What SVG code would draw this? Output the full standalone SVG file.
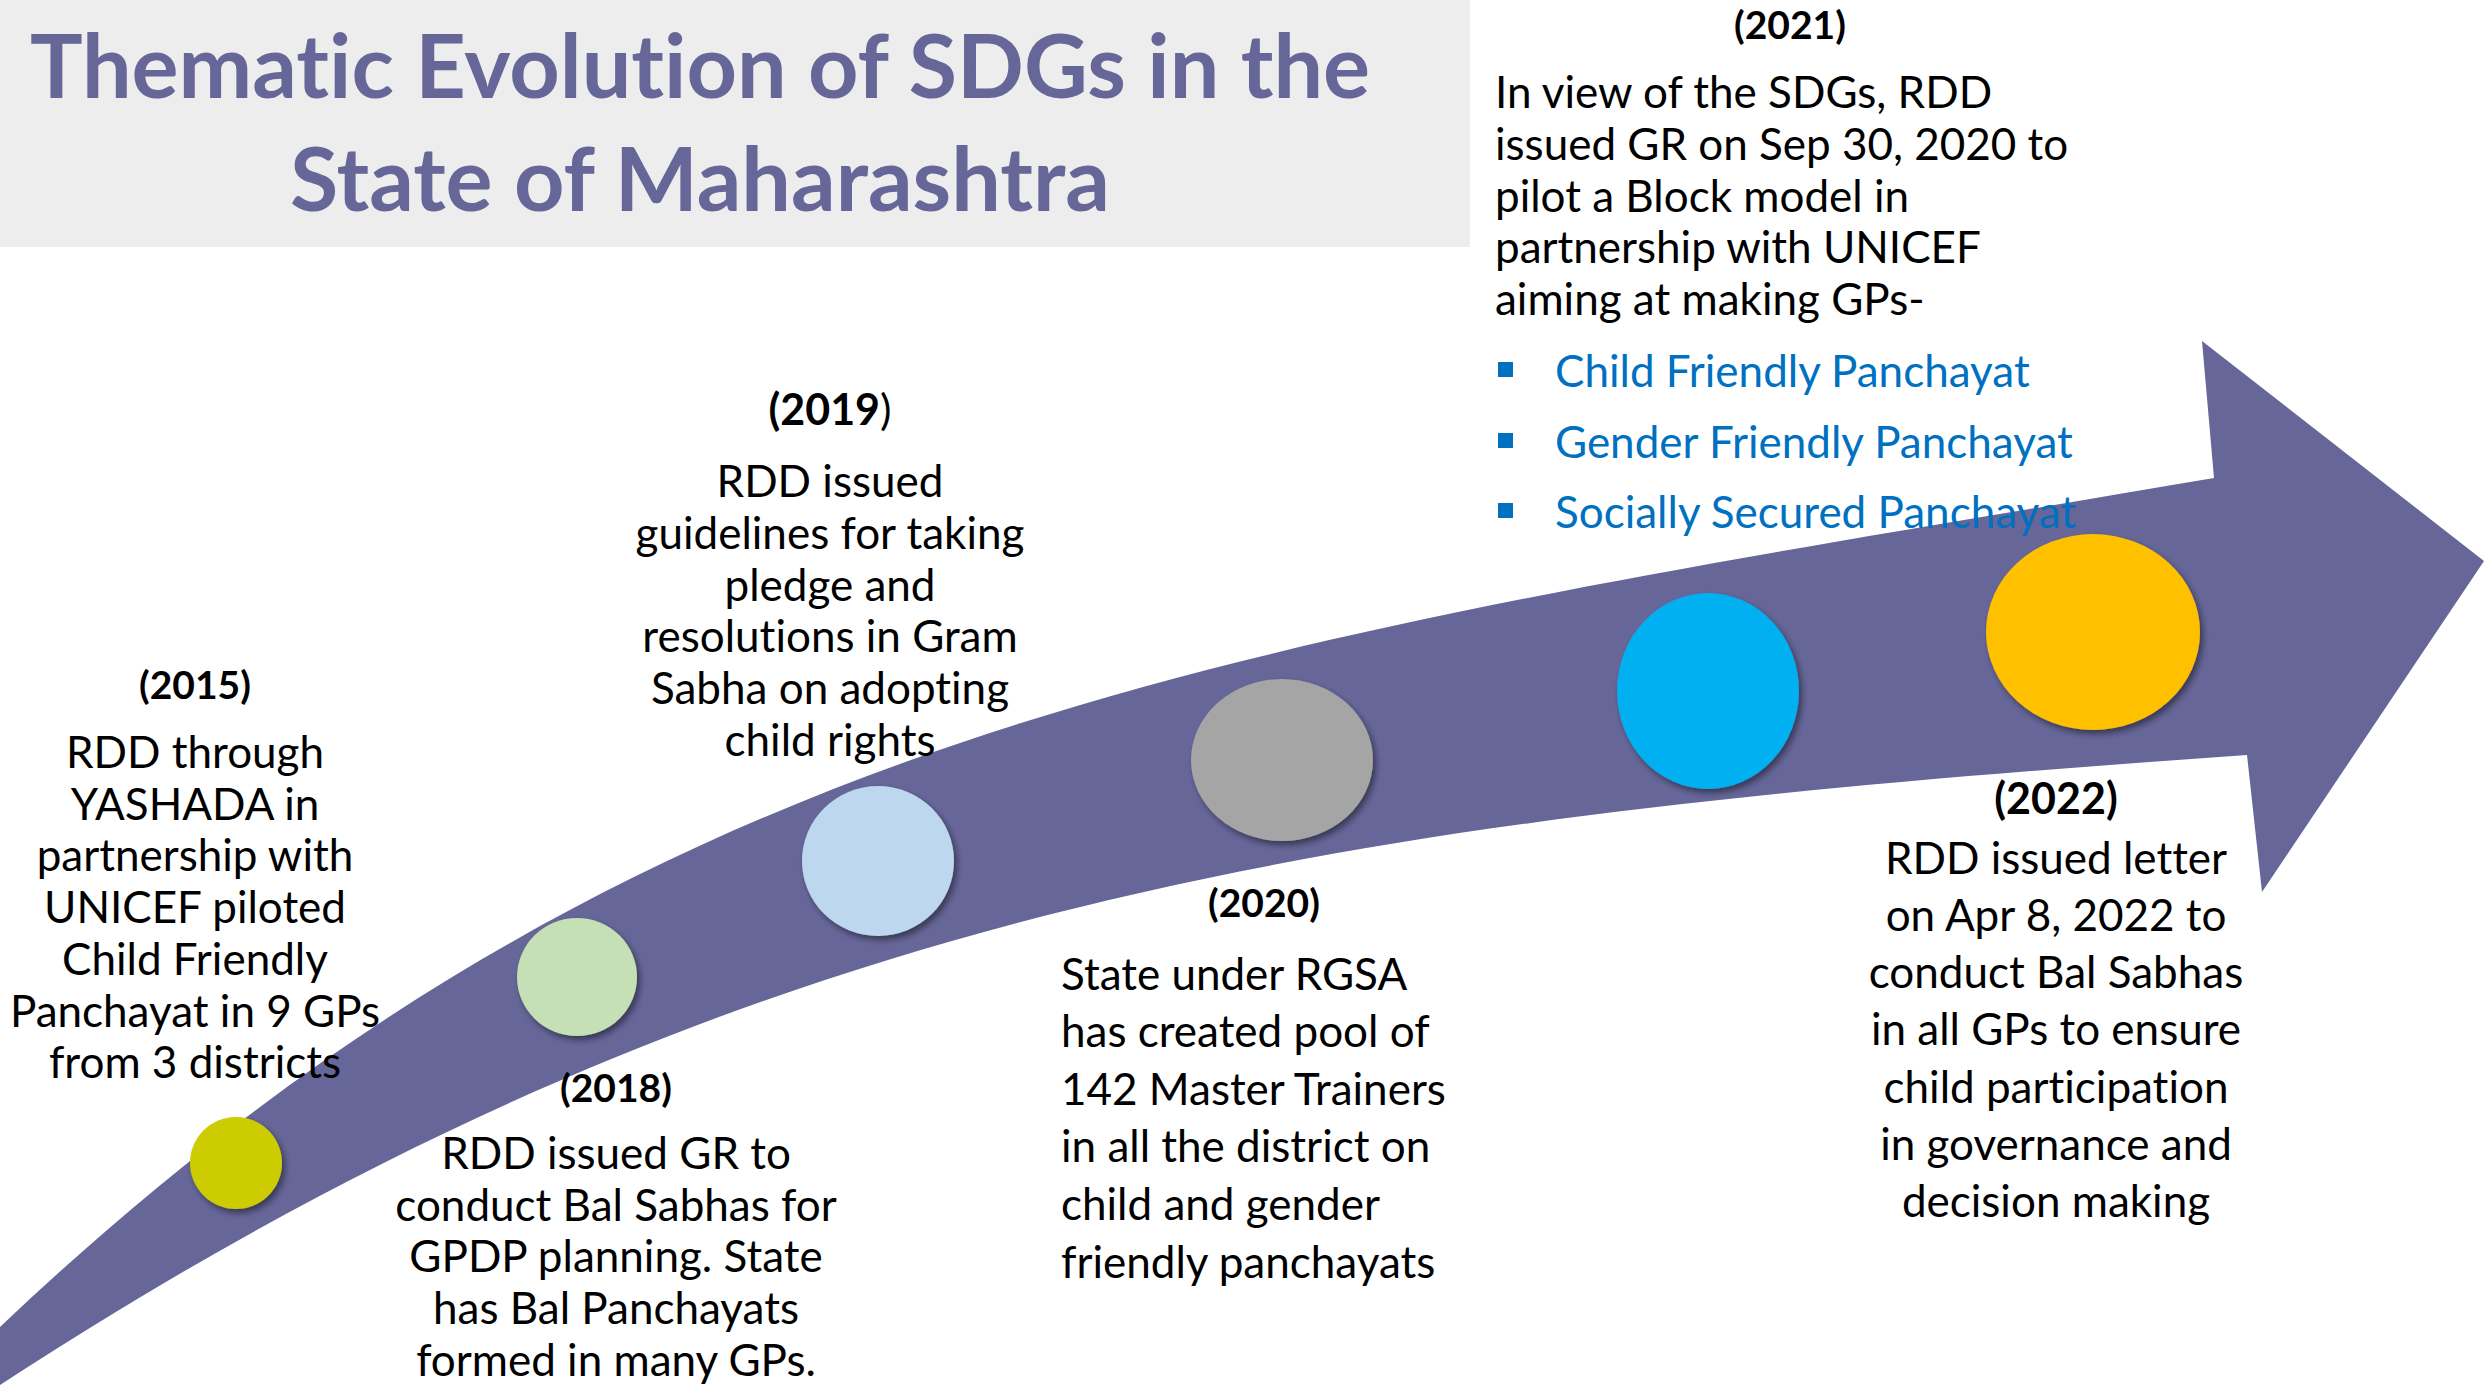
<svg xmlns="http://www.w3.org/2000/svg" width="2484" height="1385" viewBox="0 0 2484 1385">
<style>
text{font-variant-ligatures:none;font-feature-settings:"liga" 0,"dlig" 0}
.title{font-family:Lato,"Open Sans","Liberation Sans",sans-serif;font-weight:700;font-size:88px;fill:#666699;text-anchor:middle}
.body{font-family:Lato,"Open Sans","Liberation Sans",sans-serif;font-size:44px;fill:#000}
.mid{text-anchor:middle}
.yr{font-weight:700;font-size:39px}
.yr2{font-weight:700;font-size:43px}
.blue{fill:#0070C0}
.dot{filter:url(#sh)}
</style>
<defs>
<filter id="sh" x="-20%" y="-20%" width="150%" height="150%">
<feDropShadow dx="3" dy="4" stdDeviation="3" flood-color="#000" flood-opacity="0.45"/>
</filter>
</defs>
<rect x="0" y="0" width="2484" height="1385" fill="#ffffff"/>
<g id="title">
<rect x="0" y="0" width="1470" height="247" fill="#EDEDED"/>
<text class="title" x="700" y="98">Thematic Evolution of SDGs in the</text>
<text class="title" x="700" y="211">State of Maharashtra</text>
</g>
<g id="connectors">
<path id="timeline-arrow" fill="#666699" d="M0,1327 C650,709.5 1264,639.5 2214,478 L2202,341 L2484,561 L2262,892 L2247,755 C1347,818 750,895.5 0,1385 Z"/>
</g>
<g id="m2015">
<ellipse class="dot" cx="236" cy="1163" rx="46" ry="46" fill="#CCCC00"/>
<text class="body mid" x="195"><tspan class="yr" x="195" y="699">(2015)</tspan><tspan x="195" y="768">RDD through</tspan><tspan x="195" y="820">YASHADA in</tspan><tspan x="195" y="871">partnership with</tspan><tspan x="195" y="923">UNICEF piloted</tspan><tspan x="195" y="975">Child Friendly</tspan><tspan x="195" y="1027">Panchayat in 9 GPs</tspan><tspan x="195" y="1078">from 3 districts</tspan></text>
</g>
<g id="m2018">
<ellipse class="dot" cx="577" cy="977" rx="60" ry="59" fill="#C5E0B4"/>
<text class="body mid"><tspan class="yr" x="616" y="1102">(2018)</tspan><tspan x="616" y="1169">RDD issued GR to</tspan><tspan x="616" y="1221">conduct Bal Sabhas for</tspan><tspan x="616" y="1272">GPDP planning. State</tspan><tspan x="616" y="1324">has Bal Panchayats</tspan><tspan x="616" y="1376">formed in many GPs.</tspan></text>
</g>
<g id="m2019">
<ellipse class="dot" cx="878" cy="861" rx="76" ry="75" fill="#BDD7EE"/>
<text class="body mid"><tspan x="830" y="425"><tspan class="yr2">(2019</tspan><tspan font-size="43">)</tspan></tspan><tspan x="830" y="497">RDD issued</tspan><tspan x="830" y="549">guidelines for taking</tspan><tspan x="830" y="601">pledge and</tspan><tspan x="830" y="652">resolutions in Gram</tspan><tspan x="830" y="704">Sabha on adopting</tspan><tspan x="830" y="756">child rights</tspan></text>
</g>
<g id="m2020">
<ellipse class="dot" cx="1282" cy="760" rx="91" ry="81" fill="#A5A5A5"/>
<text class="body mid yr" x="1264" y="917">(2020)</text>
<text class="body"><tspan x="1061" y="990">State under RGSA</tspan><tspan x="1061" y="1047">has created pool of</tspan><tspan x="1061" y="1105">142 Master Trainers</tspan><tspan x="1061" y="1162">in all the district on</tspan><tspan x="1061" y="1220">child and gender</tspan><tspan x="1061" y="1278">friendly panchayats</tspan></text>
</g>
<g id="m2021">
<ellipse class="dot" cx="1708" cy="691" rx="91" ry="98" fill="#00B0F0"/>
<text class="body mid yr" x="1790" y="39">(2021)</text>
<text class="body"><tspan x="1495" y="108">In view of the SDGs, RDD</tspan><tspan x="1495" y="160">issued GR on Sep 30, 2020 to</tspan><tspan x="1495" y="212">pilot a Block model in</tspan><tspan x="1495" y="263">partnership with UNICEF</tspan><tspan x="1495" y="315">aiming at making GPs-</tspan></text>
<rect x="1498" y="362" width="15" height="15" fill="#0070C0"/>
<rect x="1498" y="433" width="15" height="15" fill="#0070C0"/>
<rect x="1498" y="503" width="15" height="15" fill="#0070C0"/>
<text class="body blue"><tspan x="1555" y="387">Child Friendly Panchayat</tspan><tspan x="1555" y="458">Gender Friendly Panchayat</tspan><tspan x="1555" y="528">Socially Secured Panchayat</tspan></text>
</g>
<g id="m2022">
<ellipse class="dot" cx="2093" cy="632" rx="107" ry="98" fill="#FFC000"/>
<text class="body mid"><tspan class="yr2" x="2056" y="814">(2022)</tspan><tspan x="2056" y="874">RDD issued letter</tspan><tspan x="2056" y="931">on Apr 8, 2022 to</tspan><tspan x="2056" y="988">conduct Bal Sabhas</tspan><tspan x="2056" y="1045">in all GPs to ensure</tspan><tspan x="2056" y="1103">child participation</tspan><tspan x="2056" y="1160">in governance and</tspan><tspan x="2056" y="1217">decision making</tspan></text>
</g>
</svg>
